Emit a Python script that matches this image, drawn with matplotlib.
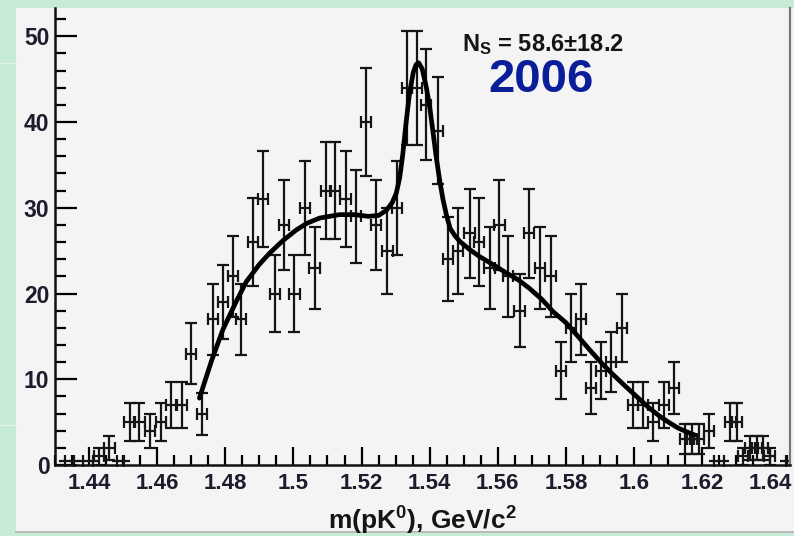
import numpy as np
import matplotlib
matplotlib.use("Agg")
import matplotlib.pyplot as plt
from matplotlib.ticker import MultipleLocator, FuncFormatter
from matplotlib.patches import Rectangle
from matplotlib.lines import Line2D

plt.rcParams["font.family"] = ["Liberation Sans", "DejaVu Sans"]
plt.rcParams["mathtext.fontset"] = "custom"
plt.rcParams["mathtext.rm"] = "Liberation Sans:bold"
plt.rcParams["mathtext.default"] = "rm"

# pK0 invariant mass histogram (bin centre, entries)
mass = [1.4328, 1.4357, 1.4381, 1.4413, 1.4430, 1.4460, 1.4481, 1.4504,
        1.4519, 1.4548, 1.4578, 1.4612, 1.4641, 1.4674, 1.4700, 1.4732,
        1.4763, 1.4793, 1.4822, 1.4847, 1.4881, 1.4910, 1.4945, 1.4972,
        1.5003, 1.5033, 1.5062, 1.5096, 1.5121, 1.5153, 1.5183, 1.5214,
        1.5243, 1.5276, 1.5305, 1.5333, 1.5362, 1.5390, 1.5424, 1.5453,
        1.5483, 1.5517, 1.5544, 1.5576, 1.5605, 1.5630, 1.5664, 1.5691,
        1.5723, 1.5755, 1.5786, 1.5816, 1.5845, 1.5874, 1.5904, 1.5933,
        1.5965, 1.5997, 1.6026, 1.6057, 1.6087, 1.6117, 1.6150, 1.6170,
        1.6190, 1.6220, 1.6235, 1.6265, 1.6283, 1.6303, 1.6320, 1.6340,
        1.6360, 1.6378, 1.6398, 1.6445]
counts = [0.5, 0.5, 0.5, 0.5, 1, 2, 0.5, 0.5,
          5, 5, 4, 5, 7, 7, 13, 6,
          17, 19, 22, 17, 26, 31, 20, 28,
          20, 30, 23, 32, 32, 31, 29, 40,
          28, 25, 30, 44, 44, 42, 39, 24,
          25, 27, 26, 23, 28, 22, 18, 27,
          23, 22, 11, 16, 17, 9, 11, 12,
          16, 7, 7, 5, 7, 9, 3, 3,
          3, 4, 0.5, 0.5, 5, 5, 1, 2,
          2, 2, 1, 0.5]

# fitted signal + background curve
fit_mass = [1.4724, 1.4760, 1.4793, 1.4830, 1.4862, 1.4900, 1.4930, 1.4970,
            1.5008, 1.5040, 1.5077, 1.5135, 1.5180, 1.5220, 1.5250, 1.5273,
            1.5290, 1.5302, 1.5312, 1.5321, 1.5331, 1.5341, 1.5352, 1.5360,
            1.5368, 1.5378, 1.5390, 1.5400, 1.5409, 1.5419, 1.5429, 1.5439,
            1.5449, 1.5460, 1.5475, 1.5488, 1.5515, 1.5547, 1.5585, 1.5625,
            1.5660, 1.5693, 1.5730, 1.5762, 1.5800, 1.5840, 1.5875, 1.5909,
            1.5945, 1.5977, 1.6010, 1.6046, 1.6075, 1.6105, 1.6130, 1.6153,
            1.6178]
fit_val = [7.8, 12.2, 15.8, 18.9, 21.4, 23.4, 24.7, 26.2,
           27.4, 28.2, 28.8, 29.2, 29.2, 29.0, 29.1, 29.7,
           30.6, 31.7, 33.5, 36.2, 40.0, 43.4, 45.8, 46.7,
           46.9, 46.2, 44.1, 41.8, 39.1, 36.0, 33.3, 31.0,
           29.2, 27.6, 26.7, 26.1, 25.2, 24.3, 23.4, 22.4,
           21.6, 20.6, 19.3, 17.9, 16.6, 14.8, 13.2, 11.7,
           10.3, 9.1, 7.9, 6.6, 5.7, 4.9, 4.3, 3.9,
           3.5]

W, H = 794, 536
fig = plt.figure(figsize=(W / 100, H / 100), dpi=100, facecolor="#c8ebd7")

# light panel behind the plot
fig.patches.append(Rectangle((16 / W, 1 - 533 / H), 1 - 16 / W, (533 - 8) / H,
                             transform=fig.transFigure, facecolor="#f4f4f4",
                             edgecolor="none", zorder=-5))
fig.lines.append(Line2D([16 / W, 1], [1 - 532 / H] * 2, transform=fig.transFigure,
                        color="#b0b0b0", lw=1.2, zorder=-4))
for yy in (63, 425):
    fig.lines.append(Line2D([0, 16 / W], [1 - yy / H] * 2, transform=fig.transFigure,
                            color="#ddf3e6", lw=1.0, zorder=-4))

ax = fig.add_axes([55 / W, 71 / H, (790 - 55) / W, (465 - 8) / H])
ax.set_facecolor("#f4f4f4")
ax.set_xlim(1.43, 1.6458)
ax.set_ylim(0, 53.3)

m = np.array(mass)
n = np.array(counts)
full = n >= 1
# filled bins with capped error bars, near-empty bins as plain crosses
ax.errorbar(m[full], n[full], xerr=0.0015, yerr=np.sqrt(n[full]), fmt="none",
            ecolor="#151515", elinewidth=1.6, capsize=4.3, capthick=1.6, zorder=2)
ax.errorbar(m[~full], n[~full], xerr=0.0015, yerr=np.sqrt(n[~full]), fmt="none",
            ecolor="#151515", elinewidth=1.6, capsize=0, zorder=2, clip_on=False)
ax.plot(fit_mass, fit_val, color="black", lw=3.4, solid_joinstyle="round",
        solid_capstyle="round", zorder=3)

ax.spines["top"].set_visible(False)
ax.spines["right"].set_color("#777777")
ax.spines["right"].set_linewidth(1.6)
for s in ("left", "bottom"):
    ax.spines[s].set_linewidth(1.8)
    ax.spines[s].set_color("#111111")

ax.xaxis.set_major_locator(MultipleLocator(0.02))
ax.xaxis.set_minor_locator(MultipleLocator(0.005))
ax.yaxis.set_major_locator(MultipleLocator(10))
ax.yaxis.set_minor_locator(MultipleLocator(2))
ax.xaxis.set_major_formatter(FuncFormatter(lambda v, p: "%g" % round(v, 3)))
ax.tick_params(axis="x", which="major", direction="in", length=13, width=1.6,
               pad=6, labelsize=16, labelcolor="#1c1c2c", top=False)
ax.tick_params(axis="x", which="minor", direction="in", length=7, width=1.6, top=False)
ax.tick_params(axis="y", which="major", direction="in", length=16, width=1.6,
               pad=4, labelsize=16.5, labelcolor="#1c1c2c", right=False)
ax.tick_params(axis="y", which="minor", direction="in", length=8, width=1.6, right=False)
for lab in ax.get_xticklabels() + ax.get_yticklabels():
    lab.set_fontweight("bold")

fig.text(422 / W, 1 - 521 / H, r"m(pK$^{0}$), GeV/c$^{2}$", ha="center", va="center",
         fontsize=19, fontweight="bold", color="#151515")
fig.text(462 / W, 1 - 45 / H, r"N$_{\mathrm{S}}$ = 58.6$\pm$18.2", ha="left",
         va="center", fontsize=17, fontweight="bold", color="#151515")
fig.text(541 / W, 1 - 80 / H, "2006", ha="center", va="center", fontsize=34,
         fontweight="bold", color="#0b1e9a")

fig.savefig("out.png", dpi=100, facecolor=fig.get_facecolor())
